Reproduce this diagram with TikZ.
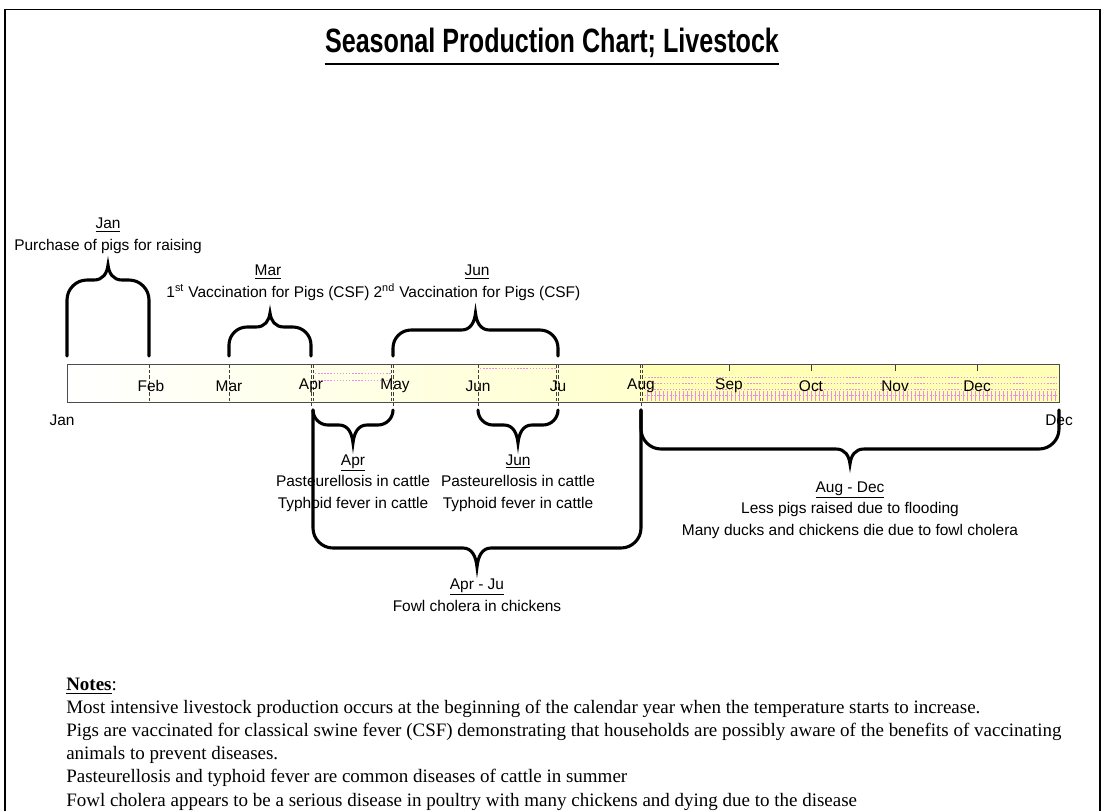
\documentclass[tikz,border=0pt]{standalone}
\usepackage{fontspec}
\setmainfont{Liberation Sans}
\newfontfamily\notesfont{Liberation Serif}
\definecolor{baryellow}{RGB}{255,255,206}
\definecolor{lateyellow}{RGB}{255,255,182}
\definecolor{gridpink}{RGB}{232,140,232}
\usetikzlibrary{calc}

% #1 left x, #2 right x, #3 leg end, #4 brace line, #5 tip, #6 corner (negative below the bar)
\newcommand{\seasonbrace}[6]{%
  \draw[season brace] (#1,#3) -- (#1,{#4+#6})
    .. controls (#1,{#4+0.45*#6}) and ({#1+0.45*abs(#6)},#4) .. ({#1+abs(#6)},#4)
    -- ({(#1+#2)/2-14},#4)
    .. controls ({(#1+#2)/2-5},#4) and ({(#1+#2)/2-1},{#4+0.45*(#5-#4)}) .. ({(#1+#2)/2},#5)
    .. controls ({(#1+#2)/2+1},{#4+0.45*(#5-#4)}) and ({(#1+#2)/2+5},#4) .. ({(#1+#2)/2+14},#4)
    -- ({#2-abs(#6)},#4)
    .. controls ({#2-0.45*abs(#6)},#4) and (#2,{#4+0.45*#6}) .. (#2,{#4+#6})
    -- (#2,#3);}

\begin{document}
\begin{tikzpicture}[x=0.025cm, y=-0.025cm,
  season brace/.style={line width=2.2pt, line cap=round},
  month/.style={font=\fontsize{11}{12}\selectfont, inner sep=0pt},
  event/.style={font=\fontsize{11}{15.3}\selectfont, align=center, inner sep=0pt},
  tickline/.style={black!75, line width=0.5pt, dash pattern=on 2.5pt off 1.5pt},
  pinkdots/.style={gridpink, line width=0.4pt, dash pattern=on 1pt off 1.2pt}]
  \useasboundingbox (0,0) rectangle (1106,810);
  % frame
  \draw[line width=1.4pt] (5,815) -- (5,9.5) -- (1100,9.5) -- (1100,815);

  % title
  \node[font=\fontsize{21.8}{26}\selectfont\bfseries, inner sep=0pt, anchor=base] (title) at (552,52)
    {\scalebox{0.82}[1.1]{Seasonal Production Chart; Livestock}};
  \draw[line width=2pt] ([yshift=-8.5pt]title.base west) -- ([yshift=-8.5pt]title.base east);

  % the year bar
  \coordinate (barNW) at (67,364);
  \coordinate (barSE) at (1059,402);
  \shade[left color=white, right color=baryellow] (barNW) rectangle (641,402);
  \fill[lateyellow] (641,364) rectangle (barSE);
  \foreach \y in {373,380} \draw[pinkdots] (315,\y) -- (391,\y);
  \draw[pinkdots] (480,368) -- (556,368);
  \foreach \y in {377,383,389,395} \draw[pinkdots] (645,\y) -- (1057,\y);
  \foreach \x in {647,651,...,1057} \draw[gridpink, line width=0.3pt] (\x,391) -- (\x,401);
  \foreach \x in {149,229,311,313,391,393,478,556,558,640,642} \draw[tickline] (\x,364) -- (\x,402);
  \foreach \x in {311,393,478,558,641} \draw[black!75, line width=0.5pt] (\x,402) -- (\x,406);
  \foreach \x in {729,811,895,977} \draw[black!75, line width=0.5pt] (\x,364) -- (\x,371);
  \draw[black!70, line width=0.6pt] (barNW) rectangle (barSE);

  \foreach \x/\m in {151/Feb,229/Mar,311/Apr,395/May,478/Jun,558/Ju,641/Aug,729/Sep,811/Oct,895/Nov,977/Dec}
    \node[month] (m-\m) at (\x,386) {\m};
  \node[month] (jan) at (62,420) {Jan};
  \node[month] (dec) at (1059,420) {Dec};

  % braces above and below the bar
  \seasonbrace{67}{149}{356}{280}{265}{20}
  \seasonbrace{229}{311}{356}{327}{313}{18}
  \seasonbrace{393}{558}{356}{330}{313}{18}
  \seasonbrace{313}{393}{410}{425}{443}{-15}
  \seasonbrace{478}{558}{410}{425}{443}{-15}
  \seasonbrace{313}{641}{410}{548}{567}{-20}
  \seasonbrace{641}{1059}{410}{449}{464}{-20}

  \node[event] (purchase) at (108,236) {\underline{Jan}\\Purchase of pigs for raising};
  \node[event] (vacc1) at (268,283) {\underline{Mar}\\1\textsuperscript{st} Vaccination for Pigs (CSF)};
  \node[event] (vacc2) at (477,283) {\underline{Jun}\\2\textsuperscript{nd} Vaccination for Pigs (CSF)};
  \node[event] (cattle1) at (353,483) {\underline{Apr}\\Pasteurellosis in cattle\\Typhoid fever in cattle};
  \node[event] (cattle2) at (518,483) {\underline{Jun}\\Pasteurellosis in cattle\\Typhoid fever in cattle};
  \node[event] (cholera) at (477,595) {\underline{Apr - Ju}\\Fowl cholera in chickens};
  \node[event] (flood) at (850,510) {\underline{Aug - Dec}\\Less pigs raised due to flooding\\Many ducks and chickens die due to fowl cholera};

  % notes
  \node[anchor=north west, inner sep=0pt, align=left, font=\notesfont\fontsize{13.5}{16.4}\selectfont] (notes) at (66,678)
    {\textbf{\underline{Notes}}:\\
     Most intensive livestock production occurs at the beginning of the calendar year when the temperature starts to increase.\\
     Pigs are vaccinated for classical swine fever (CSF) demonstrating that households are possibly aware of the benefits of vaccinating\\
     animals to prevent diseases.\\
     Pasteurellosis and typhoid fever are common diseases of cattle in summer\\
     Fowl cholera appears to be a serious disease in poultry with many chickens and dying due to the disease};
\end{tikzpicture}
\end{document}
